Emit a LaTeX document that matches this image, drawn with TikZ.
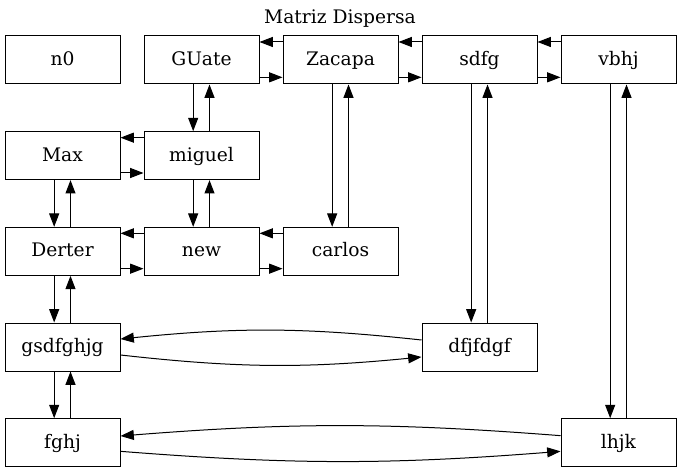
\documentclass[tikz,border=0pt]{standalone}
\usepackage{fontspec}
\setmainfont{DejaVu Serif}
\usetikzlibrary{positioning, arrows.meta}

\tikzset{
    cell/.style={draw, line width=0.75pt, minimum width=86.25pt, minimum height=36pt, inner sep=0pt, text height=10.5pt, text depth=2pt, font=\fontsize{14pt}{16pt}\selectfont},
    link/.style={-{Triangle[length=10pt, width=7.5pt]}, line width=0.75pt}
}

\begin{document}
\begin{tikzpicture}[node distance=71.75pt and 104.25pt, on grid]
    \useasboundingbox (0,0) rectangle (510pt,-354.75pt);
    \node[font=\fontsize{14pt}{16pt}\selectfont] (title) at (255pt,-14.25pt) {Matriz Dispersa};

    \node[cell] (n0) at (46.875pt,-45pt) {n0};
    \node[cell] (guate) [right=of n0] {GUate};
    \node[cell] (zacapa) [right=of guate] {Zacapa};
    \node[cell] (sdfg) [right=of zacapa] {sdfg};
    \node[cell] (vbhj) [right=of sdfg] {vbhj};
    \node[cell] (max) [below=of n0] {Max};
    \node[cell] (miguel) [right=of max] {miguel};
    \node[cell] (derter) [below=of max] {Derter};
    \node[cell] (new) [right=of derter] {new};
    \node[cell] (carlos) [right=of new] {carlos};
    \node[cell] (gsdfghjg) [below=of derter] {gsdfghjg};
    \node[cell] (dfjfdgf) [right=3*104.25pt of gsdfghjg] {dfjfdgf};
    \node[cell] (fghj) [below=of gsdfghjg] {fghj};
    \node[cell] (lhjk) [right=4*104.25pt of fghj] {lhjk};

    % horizontal pairs
    \foreach \a/\b in {guate/zacapa, zacapa/sdfg, sdfg/vbhj, max/miguel, derter/new, new/carlos} {
        \draw[link] ([yshift=13.5pt]\b.west) -- ([yshift=13.5pt]\a.east);
        \draw[link] ([yshift=-13pt]\a.east) -- ([yshift=-13pt]\b.west);
    }

    % vertical pairs
    \foreach \a/\b in {guate/miguel, miguel/new, max/derter, derter/gsdfghjg, gsdfghjg/fghj, zacapa/carlos, sdfg/dfjfdgf, vbhj/lhjk} {
        \draw[link] ([xshift=-6.25pt]\a.south) -- ([xshift=-6.25pt]\b.north);
        \draw[link] ([xshift=6pt]\b.north) -- ([xshift=6pt]\a.south);
    }

    % long rows
    \draw[link] ([yshift=5.25pt]dfjfdgf.west) to[bend right=6] ([yshift=6pt]gsdfghjg.east);
    \draw[link] ([yshift=-6pt]gsdfghjg.east) to[bend right=6] ([yshift=-7.5pt]dfjfdgf.west);
    \draw[link] ([yshift=5.25pt]lhjk.west) to[bend right=4.5] ([yshift=5pt]fghj.east);
    \draw[link] ([yshift=-6.5pt]fghj.east) to[bend right=4.5] ([yshift=-6.5pt]lhjk.west);
\end{tikzpicture}
\end{document}
